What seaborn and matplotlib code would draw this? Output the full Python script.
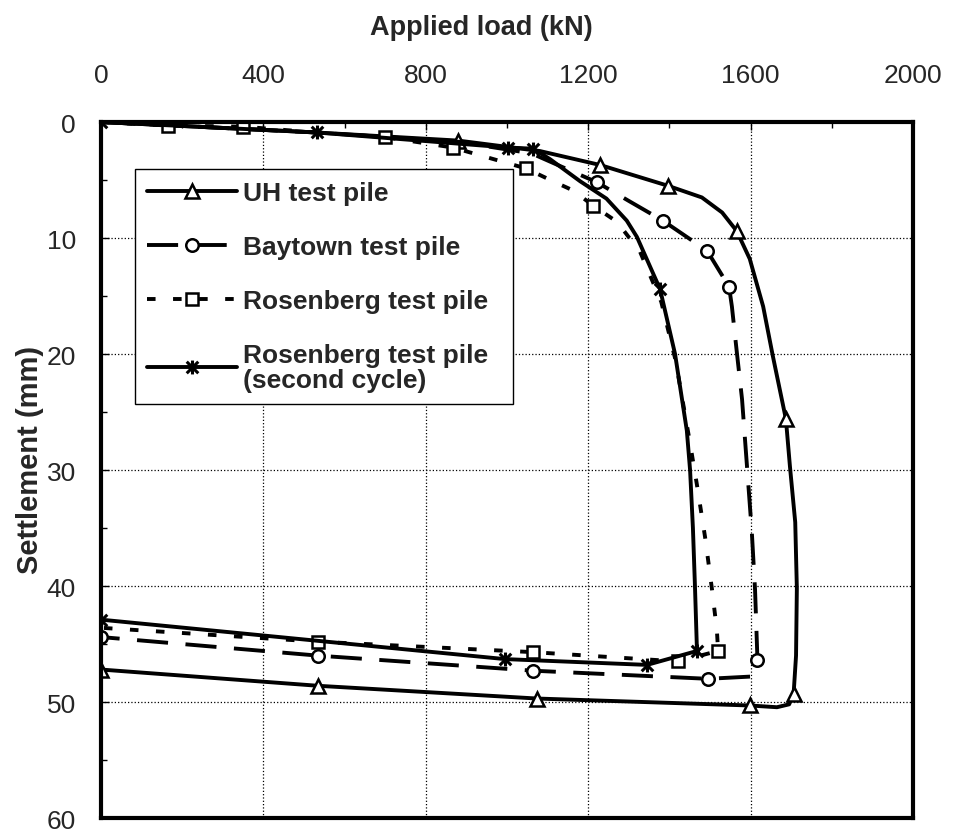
import matplotlib
matplotlib.use("Agg")
import matplotlib.pyplot as plt
from matplotlib.lines import Line2D
from matplotlib.path import Path
from matplotlib.ticker import MultipleLocator
import seaborn as sns

sns.set_style("white")
plt.rcParams['font.family'] = ['Liberation Sans', 'DejaVu Sans']

# UH test pile (load kN, settlement mm)
uh_load = [0, 530, 880, 1081, 1229, 1397, 1480, 1530, 1566, 1598, 1631, 1655, 1687,
           1697, 1710, 1714, 1712, 1706, 1695, 1665, 1598, 1074, 534, 0]
uh_settle = [0, 0.9, 1.6, 2.5, 3.7, 5.5, 6.5, 7.8, 9.4, 11.8, 15.9, 20.2, 25.6,
             29.7, 34.5, 40.2, 46.0, 49.3, 50.2, 50.45, 50.3, 49.7, 48.6, 47.2]
uh_marks = [2, 4, 5, 8, 12, 17, 20, 21, 22, 23]

# Baytown test pile
bt_load = [0, 530, 880, 1060, 1222, 1300, 1384, 1493, 1547, 1554, 1566, 1579, 1591,
           1603, 1611, 1617, 1604, 1495, 1064, 534, 0]
bt_settle = [0, 0.9, 1.7, 2.7, 5.2, 6.8, 8.5, 11.1, 14.2, 15.9, 19.8, 23.9, 29.6,
             35.3, 40.3, 46.4, 47.8, 48.0, 47.3, 46.0, 44.4]
bt_marks = [4, 6, 7, 8, 15, 17, 18, 19, 20]

# Rosenberg test pile
rb_load = [0, 165, 350, 530, 700, 867, 1047, 1113, 1163, 1212, 1271, 1328, 1380, 1415,
           1450, 1468, 1488, 1505, 1517, 1520, 1421, 1064, 534, 0]
rb_settle = [0, 0.3, 0.4, 0.9, 1.3, 2.2, 4.0, 5.1, 5.9, 7.2, 8.6, 11.2, 15.5, 20.5,
             27.5, 31.3, 35.8, 40.3, 43.8, 45.6, 46.5, 45.7, 44.8, 43.6]
rb_marks = [1, 2, 4, 5, 6, 9, 19, 20, 21, 22]

# Rosenberg test pile, second cycle
rc_load = [0, 532, 1002, 1065, 1106, 1180, 1245, 1295, 1320, 1377, 1414, 1443, 1451,
           1458, 1463, 1468, 1345, 995, 0]
rc_settle = [0, 0.9, 2.2, 2.3, 3.2, 5.1, 6.6, 8.5, 9.9, 14.4, 20.0, 26.6, 30.0,
             35.0, 40.0, 45.6, 46.8, 46.3, 42.9]
rc_marks = [0, 1, 2, 3, 9, 15, 16, 17, 18]

labels = ["UH test pile", "Baytown test pile", "Rosenberg test pile",
          "Rosenberg test pile\n(second cycle)"]

# x with a vertical bar, like the spreadsheet star marker
star = Path([(-1, -1), (1, 1), (-1, 1), (1, -1), (0, -1.2), (0, 1.2)],
            [Path.MOVETO, Path.LINETO, Path.MOVETO, Path.LINETO, Path.MOVETO, Path.LINETO])

styles = [
    dict(marker='^', markersize=10, linestyle='-', mew=1.8),
    dict(marker='o', markersize=9, linestyle=(0, (8, 4.5)), mew=1.8),
    dict(marker='s', markersize=9, linestyle=(0, (2.2, 4.5)), mew=1.8),
    dict(marker=star, markersize=10, linestyle='-', mew=2.2),
]
series = [(uh_load, uh_settle, uh_marks), (bt_load, bt_settle, bt_marks),
          (rb_load, rb_settle, rb_marks), (rc_load, rc_settle, rc_marks)]

fig = plt.figure(figsize=(9.59, 8.37), dpi=100)
ax = fig.add_axes([0.1053, 0.0215, 0.8467, 0.8315])

handles = []
for (x, y, m), st in zip(series, styles):
    sns.lineplot(x=x, y=y, ax=ax, sort=False, estimator=None, color='black',
                 linewidth=2.8, linestyle=st['linestyle'], marker=st['marker'],
                 markersize=st['markersize'], markevery=m, markerfacecolor='white',
                 markeredgecolor='black', markeredgewidth=st['mew'], legend=False)
    handles.append(Line2D([], [], color='black', linewidth=2.8, linestyle=st['linestyle'],
                          marker=st['marker'], markersize=st['markersize'],
                          markerfacecolor='white', markeredgecolor='black',
                          markeredgewidth=st['mew']))

ax.set_xlim(0, 2000)
ax.set_ylim(60, 0)
ax.xaxis.set_major_locator(MultipleLocator(400))
ax.xaxis.set_minor_locator(MultipleLocator(200))
ax.yaxis.set_major_locator(MultipleLocator(10))
ax.yaxis.set_minor_locator(MultipleLocator(5))
ax.xaxis.tick_top()
ax.tick_params(axis='x', which='both', direction='in', top=True, bottom=False,
               labeltop=True, labelbottom=False, labelsize=19, pad=25, color='black')
ax.tick_params(axis='y', which='both', direction='in', left=True, right=False,
               labelsize=19, pad=18, color='black')
ax.tick_params(which='major', length=6, width=1)
ax.tick_params(which='minor', length=4, width=1)
ax.set_xlabel("")
ax.set_ylabel("")
ax.grid(True, which='major', color='black', linestyle=':', linewidth=0.9)
ax.set_axisbelow(True)
for s in ax.spines.values():
    s.set_visible(True)
    s.set_color('black')
    s.set_linewidth(3)

fig.text(0.5016, 0.9666, "Applied load (kN)", ha='center', va='center',
         fontsize=19.5, fontweight='bold')
fig.text(0.031, 0.4504, "Settlement (mm)", ha='center', va='center', rotation=90,
         fontsize=21, fontweight='bold')

leg = ax.legend(handles, labels, loc='upper left', mode='expand',
                bbox_to_anchor=(0.042, 0.5, 0.4655, 0.432),
                borderaxespad=0, frameon=True, fancybox=False, edgecolor='black',
                framealpha=1, prop={'weight': 'bold', 'size': 19}, handlelength=3.4,
                handletextpad=0.25, labelspacing=1.13, borderpad=0.45, numpoints=1)
leg.get_frame().set_linewidth(1.0)
for t in leg.get_texts():
    t.set_linespacing(1.05)

fig.savefig("out.png", dpi=100)
